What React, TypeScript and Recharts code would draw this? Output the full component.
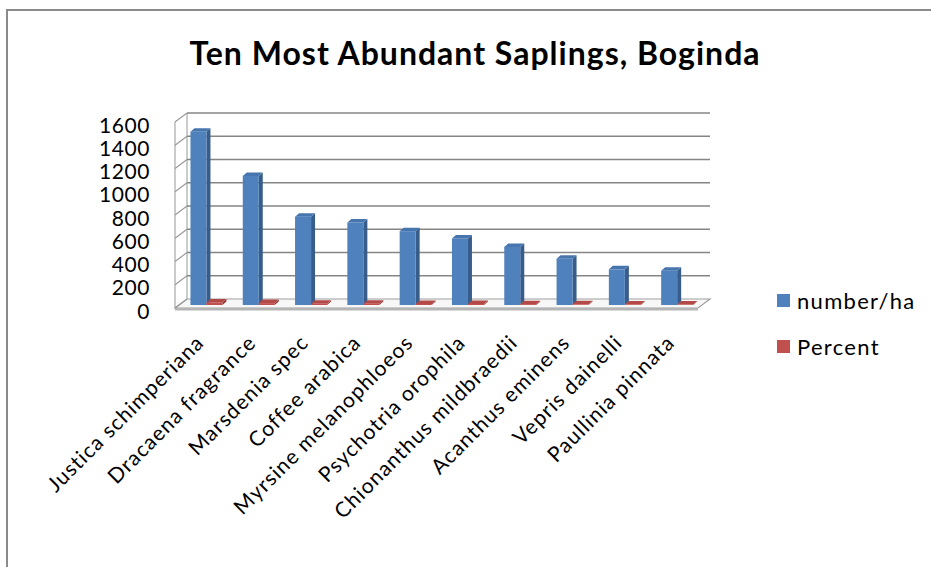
import React from 'react';
import { BarChart, Bar, XAxis, YAxis, CartesianGrid, Legend } from 'recharts';

const categories = [
  'Justica schimperiana',
  'Dracaena fragrance',
  'Marsdenia spec',
  'Coffee arabica',
  'Myrsine melanophloeos',
  'Psychotria orophila',
  'Chionanthus mildbraedii',
  'Acanthus eminens',
  'Vepris dainelli',
  'Paullinia pinnata',
];
const numberPerHa = [1490, 1110, 760, 710, 635, 573, 500, 398, 307, 295];
const percent = [22.1, 16.4, 11.2, 10.5, 9.4, 8.5, 7.4, 5.9, 4.5, 4.4];
const yTicks = [0, 200, 400, 600, 800, 1000, 1200, 1400, 1600];
const seriesNames = ['number/ha', 'Percent'];

const data = categories.map((name, i) => ({
  name,
  numberPerHa: numberPerHa[i],
  percent: percent[i],
}));

const W = 931;
const H = 567;
const PLOT_LEFT = 175;
const PLOT_RIGHT = 698;
const PLOT_TOP = 122;
const PLOT_BOTTOM = 308;

// depth offset of the back wall relative to the front plane
const WALL_DX = 12;
const WALL_DY = -9;
// bars sit a little behind the front plane
const BAR_DX = 5;
const BAR_DY = -3;
// bar thickness (side/top faces)
const DEPTH_DX = 4;
const DEPTH_DY = -3.5;

const FONT = 'Lato, "Open Sans", sans-serif';
const GRID = '#858585';

const palettes = {
  blue: { front: '#4F81BD', side: '#385D8A', top: '#4775AE' },
  red: { front: '#C0504D', side: '#8C3A38', top: '#B34A47' },
};

const makeBarShape = (pal: { front: string; side: string; top: string }) => (props: any) => {
  const { x, y, width, height } = props;
  if (x == null || y == null) return <g />;
  const fx = x + BAR_DX;
  const fy = y + BAR_DY;
  const w = width;
  const h = Math.max(height, 0);
  const side = `${fx + w},${fy} ${fx + w + DEPTH_DX},${fy + DEPTH_DY} ${fx + w + DEPTH_DX},${fy + h + DEPTH_DY} ${fx + w},${fy + h}`;
  const top = `${fx},${fy} ${fx + DEPTH_DX},${fy + DEPTH_DY} ${fx + w + DEPTH_DX},${fy + DEPTH_DY} ${fx + w},${fy}`;
  return (
    <g>
      <polygon points={side} fill={pal.side} />
      <polygon points={top} fill={pal.top} />
      <rect x={fx} y={fy} width={w} height={h} fill={pal.front} />
    </g>
  );
};

const gridLine = (props: any) => {
  const { x1, y1, x2, y2, index } = props;
  const isFloor = Math.abs(y1 - PLOT_BOTTOM) < 1;
  return (
    <g key={`grid-${index}`}>
      {isFloor ? (
        <g>
          <polygon
            points={`${x1},${y1} ${x2},${y2} ${x2 + WALL_DX},${y2 + WALL_DY} ${x1 + WALL_DX},${y1 + WALL_DY}`}
            fill="#f7f7f7"
            stroke="#a0a0a0"
            strokeWidth={1.2}
          />
          <rect x={x1} y={y1} width={x2 - x1} height={2.5} fill="#b5b5b5" />
          <line x1={x1} y1={PLOT_TOP} x2={x1} y2={PLOT_BOTTOM} stroke="#a8a8a8" strokeWidth={1.2} />
          <line
            x1={x1 + WALL_DX}
            y1={PLOT_TOP + WALL_DY}
            x2={x1 + WALL_DX}
            y2={PLOT_BOTTOM + WALL_DY}
            stroke="#a8a8a8"
            strokeWidth={1.2}
          />
        </g>
      ) : (
        <line
          x1={x1 + WALL_DX}
          y1={y1 + WALL_DY}
          x2={x2 + WALL_DX}
          y2={y2 + WALL_DY}
          stroke={GRID}
          strokeWidth={1.6}
        />
      )}
      <line x1={x1} y1={y1} x2={x1 + WALL_DX} y2={y1 + WALL_DY} stroke="#9a9a9a" strokeWidth={1.2} />
    </g>
  );
};

const YTick = (props: any) => {
  const { x, y, payload } = props;
  return (
    <text
      x={x}
      y={y + 3}
      dy="0.36em"
      textAnchor="end"
      fontFamily={FONT}
      fontSize={21}
      letterSpacing={0.6}
      fill="#000"
    >
      {payload.value}
    </text>
  );
};

const XTick = (props: any) => {
  const { x, y, payload } = props;
  const ax = x + 4;
  const ay = y + 36;
  return (
    <text
      x={ax}
      y={ay}
      textAnchor="end"
      fontFamily={FONT}
      fontSize={21}
      letterSpacing={1.1}
      fill="#000"
      transform={`rotate(-45 ${ax} ${ay})`}
    >
      {payload.value}
    </text>
  );
};

const LegendBox = () => {
  const colors = [palettes.blue.front, palettes.red.front];
  return (
    <div style={{ fontFamily: FONT, fontSize: 22, letterSpacing: 1.3, color: '#000' }}>
      {seriesNames.map((n, i) => (
        <div key={n} style={{ display: 'flex', alignItems: 'center', height: 46 }}>
          <span
            style={{
              display: 'inline-block',
              width: 13,
              height: 13,
              background: colors[i],
              marginRight: 7,
            }}
          />
          <span>{n}</span>
        </div>
      ))}
    </div>
  );
};

export default function App() {
  return (
    <div
      style={{
        position: 'absolute',
        left: 0,
        top: 0,
        width: W,
        height: H,
        overflow: 'hidden',
        background: '#fff',
      }}
    >
      <div
        style={{
          position: 'absolute',
          left: 6,
          top: 9,
          width: 1000,
          height: 700,
          border: '2px solid #8a8a8a',
        }}
      />
      <div
        style={{
          position: 'absolute',
          left: 125,
          width: 700,
          top: 33,
          textAlign: 'center',
          fontFamily: FONT,
          fontWeight: 700,
          fontSize: 32,
          letterSpacing: 1,
          lineHeight: '40px',
          color: '#000',
        }}
      >
        Ten Most Abundant Saplings, Boginda
      </div>
      <div style={{ position: 'absolute', left: 0, top: 0 }}>
        <BarChart
          width={W}
          height={H}
          data={data}
          margin={{ top: PLOT_TOP, right: W - PLOT_RIGHT, bottom: 0, left: PLOT_LEFT - 60 }}
          barCategoryGap="20%"
          barGap={0}
        >
          <CartesianGrid horizontal={gridLine} vertical={false} />
          <XAxis
            dataKey="name"
            interval={0}
            axisLine={false}
            tickLine={false}
            tickSize={0}
            tickMargin={0}
            height={H - PLOT_BOTTOM}
            tick={<XTick />}
          />
          <YAxis
            width={60}
            domain={[0, 1600]}
            ticks={yTicks}
            interval={0}
            axisLine={false}
            tickLine={false}
            tickSize={0}
            tickMargin={25}
            tick={<YTick />}
          />
          <Legend
            layout="vertical"
            align="center"
            verticalAlign="middle"
            wrapperStyle={{ left: 777, top: 277, width: 154 }}
            content={() => <LegendBox />}
          />
          <Bar
            dataKey="numberPerHa"
            name={seriesNames[0]}
            fill={palettes.blue.front}
            shape={makeBarShape(palettes.blue)}
            isAnimationActive={false}
          />
          <Bar
            dataKey="percent"
            name={seriesNames[1]}
            fill={palettes.red.front}
            shape={makeBarShape(palettes.red)}
            isAnimationActive={false}
          />
        </BarChart>
      </div>
    </div>
  );
}
